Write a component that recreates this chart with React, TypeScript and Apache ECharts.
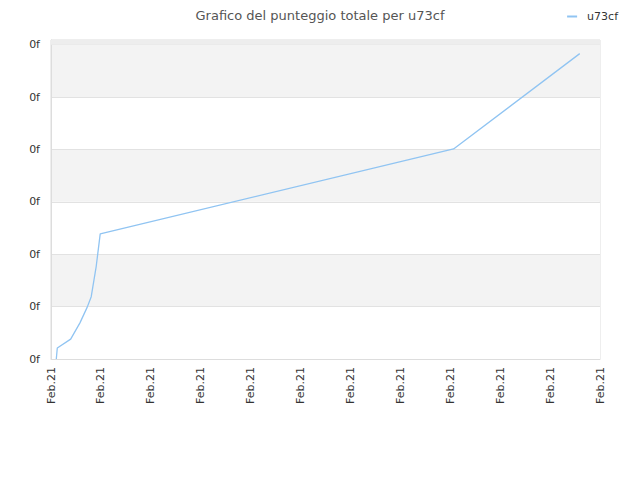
import React, { useEffect, useRef } from "react";
import * as echarts from "echarts";

// x positions in axis units (one unit per "Feb.21" tick), y = total score
const xValues = [0.106, 0.126, 0.394, 0.58, 0.726, 0.806, 0.906, 0.986, 8.066, 10.594];
const yValues = [0, 0.21, 0.38, 0.69, 0.99, 1.19, 1.77, 2.39, 4.01, 5.83];
const xTickLabel = "Feb.21";
const yTickLabel = "0f";
const seriesName = "u73cf";

const App = () => {
  const chartRef = useRef<HTMLDivElement | null>(null);

  useEffect(() => {
    if (!chartRef.current) return;
    const chart = echarts.init(chartRef.current, null, { renderer: "svg" });

    const points = xValues.map((x, i) => [x, yValues[i]]);

    chart.setOption({
      animation: false,
      textStyle: { fontFamily: "DejaVu Sans" },
      title: {
        text: "Grafico del punteggio totale per u73cf",
        left: "center",
        top: 4,
        textStyle: { fontSize: 13, fontWeight: "normal", color: "#555" },
      },
      legend: {
        right: 17,
        top: 6,
        icon: "rect",
        itemWidth: 10,
        itemHeight: 2,
        itemGap: 8,
        textStyle: { fontSize: 11, color: "#333", padding: [0, 0, 0, 5] },
        data: [seriesName],
      },
      grid: {
        left: 51,
        right: 40,
        top: 40,
        bottom: 121,
        show: true,
        borderColor: "#ddd",
        borderWidth: 1,
      },
      xAxis: {
        type: "value",
        min: 0,
        max: 11,
        interval: 1,
        axisLine: { show: true, lineStyle: { color: "#ddd" } },
        axisTick: { show: false },
        splitLine: { show: false },
        axisLabel: {
          rotate: 90,
          fontSize: 11,
          color: "#333",
          margin: 8,
          formatter: () => xTickLabel,
        },
      },
      yAxis: {
        type: "value",
        min: 0,
        max: 6.09,
        interval: 1,
        axisLine: { show: true, lineStyle: { color: "#ddd" } },
        axisTick: { show: false },
        splitLine: { show: true, lineStyle: { color: "#e2e2e2" } },
        splitArea: { show: true, areaStyle: { color: ["#ffffff", "#f3f3f3"] } },
        axisLabel: {
          fontSize: 11,
          color: "#333",
          margin: 11,
          showMaxLabel: false,
          formatter: () => yTickLabel,
        },
      },
      series: [
        {
          name: seriesName,
          type: "line",
          data: points,
          showSymbol: false,
          symbol: "none",
          lineStyle: { color: "#90c4f2", width: 1.3 },
          itemStyle: { color: "#90c4f2" },
          markArea: {
            silent: true,
            itemStyle: { color: "#ededed" },
            data: [[{ yAxis: 6 }, { yAxis: 6.09 }]],
          },
        },
      ],
    });

    return () => {
      chart.dispose();
    };
  }, []);

  return <div ref={chartRef} style={{ width: 640, height: 480, margin: -8 }}></div>;
};

export default App;
